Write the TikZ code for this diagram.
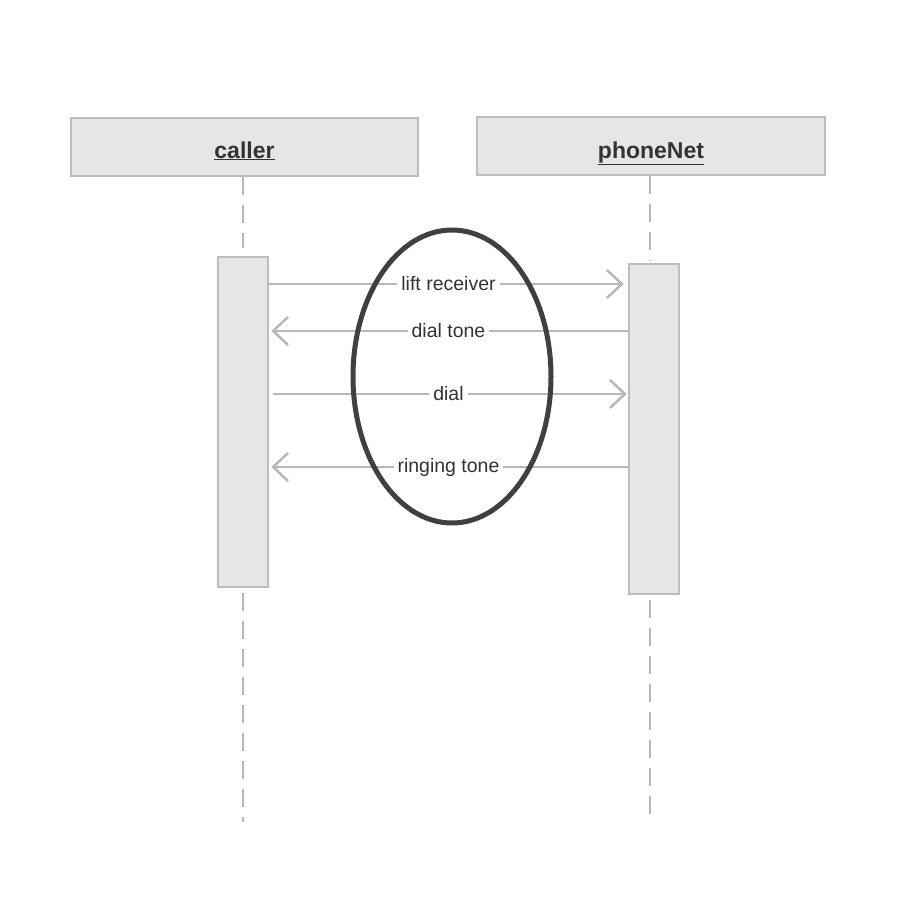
\documentclass[tikz,border=0pt]{standalone}
\usepackage{fontspec}
\setmainfont{Liberation Sans}
\usetikzlibrary{arrows.meta,shapes.geometric}
\definecolor{boxfill}{HTML}{E6E6E6}
\definecolor{boxline}{HTML}{BDBDBD}
\definecolor{msgline}{HTML}{B8B8B8}
\definecolor{txt}{HTML}{333333}
\definecolor{ring}{HTML}{404040}
\tikzset{
  header/.style={draw=boxline, fill=boxfill, line width=2.5pt, minimum height=58pt, inner sep=0pt},
  htext/.style={anchor=base, inner sep=0pt, text=txt, font=\fontsize{23}{27}\selectfont\bfseries},
  actbox/.style={draw=boxline, fill=boxfill, line width=2.5pt, minimum width=50pt, minimum height=330pt, inner sep=0pt},
  lifeline/.style={draw=msgline, line width=2pt, dash pattern=on 18pt off 10pt},
  msg/.style={draw=msgline, line width=2.5pt, -{Straight Barb[length=15pt,width=28pt,line width=2.5pt]}},
  lbl/.style={fill=white, text=txt, inner sep=4pt, font=\fontsize{19.5}{23}\selectfont}
}
\begin{document}
\begin{tikzpicture}[x=1pt,y=-1pt]
\useasboundingbox[fill=white] (0,0) rectangle (900,900);
\node[header, minimum width=347pt] (callerH) at (244.5,147) {};
\node[header, minimum width=348pt] (phoneH) at (651,146) {};
\node[htext] (callerT) at (callerH.center |- 0,158) {\underline{caller}};
\node[htext] (phoneT) at (phoneH.center |- 0,158) {\underline{phoneNet}};
\node[actbox] (callerA) at (243,422) {};
\node[actbox] (phoneA) at (654,429) {};
\coordinate (callerEnd) at (243,822);
\coordinate (phoneEnd) at (650,815);
\draw[lifeline] (callerH.south -| 243,0) -- ([yshift=8pt]callerA.north);
\draw[lifeline] ([yshift=-5pt]callerA.south) -- (callerEnd);
\draw[lifeline] (phoneH.south -| 650,0) -- ([yshift=2pt]phoneA.north -| 650,0);
\draw[lifeline] ([yshift=-5pt]phoneA.south -| 650,0) -- (phoneEnd);
\draw[msg, shorten >=4pt] (callerA.east |- 0,284) -- node[lbl] (m1) {lift receiver} (phoneA.west |- 0,284);
\draw[msg, shorten >=2pt] (phoneA.west |- 0,331) -- node[lbl] (m2) {dial tone} (callerA.east |- 0,331);
\draw[msg, shorten <=4pt, shorten >=1pt] (callerA.east |- 0,394) -- node[lbl] (m3) {dial} (phoneA.west |- 0,394);
\draw[msg, shorten >=2pt] (phoneA.west |- 0,467) -- node[lbl] (m4) {ringing tone} (callerA.east |- 0,467);
\node[draw=ring, line width=5pt, ellipse, minimum width=198pt, minimum height=293pt, inner sep=0pt] (focus) at (452,376.5) {};
\end{tikzpicture}
\end{document}
